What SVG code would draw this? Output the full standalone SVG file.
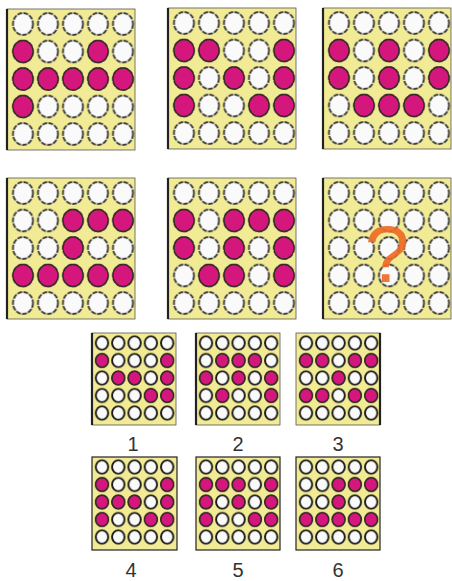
<svg xmlns="http://www.w3.org/2000/svg" xmlns:xlink="http://www.w3.org/1999/xlink" width="452" height="581" viewBox="0 0 452 581">
<style>
.bg{fill:#f2eb95;stroke:#555;stroke-width:0.8}
.edge{stroke:#222;stroke-width:2.2}
.pk{fill:#d5177d;stroke:#3a2a2a;stroke-width:1.3}
.lbl{font-family:"Liberation Sans",Arial,sans-serif;font-size:20px;fill:#333;text-anchor:middle}
.q{font-family:"Liberation Sans",Arial,sans-serif;font-size:80px;fill:#ef6a26;fill-opacity:0.92;text-anchor:middle}
</style>
<defs>
<pattern id="bigc" patternUnits="userSpaceOnUse" x="3.5" y="1.25" width="25" height="27.5">
<ellipse cx="12.5" cy="13.75" rx="10" ry="11" fill="#fafafa" stroke="#2a2a2a" stroke-width="1.7" stroke-dasharray="5 1.2"/>
</pattern>
<pattern id="smc" patternUnits="userSpaceOnUse" x="1.85" y="1.25" width="16.3" height="17.5">
<ellipse cx="8.15" cy="8.75" rx="6.2" ry="6.7" fill="#fafafa" stroke="#1a1a1a" stroke-width="1.9"/>
</pattern>
<ellipse id="bp" class="pk" rx="10" ry="11"/>
<ellipse id="sp" class="pk" rx="6.2" ry="6.7"/>
</defs>

<!-- Row 1 -->
<g id="panel1" transform="translate(7,9)">
<rect class="bg" width="128" height="141"/>
<rect x="3.5" y="1.25" width="125" height="137.5" fill="url(#bigc)"/>
<line class="edge" x1="0" y1="0" x2="0" y2="141"/>
<use href="#bp" x="16" y="42.5"/><use href="#bp" x="91" y="42.5"/>
<use href="#bp" x="16" y="70"/><use href="#bp" x="41" y="70"/><use href="#bp" x="66" y="70"/><use href="#bp" x="91" y="70"/><use href="#bp" x="116" y="70"/>
<use href="#bp" x="16" y="97.5"/>
</g>
<g id="panel2" transform="translate(168,8)">
<rect class="bg" width="128" height="141"/>
<rect x="3.5" y="1.25" width="125" height="137.5" fill="url(#bigc)"/>
<line class="edge" x1="0" y1="0" x2="0" y2="141"/>
<use href="#bp" x="16" y="42.5"/><use href="#bp" x="41" y="42.5"/><use href="#bp" x="116" y="42.5"/>
<use href="#bp" x="16" y="70"/><use href="#bp" x="66" y="70"/><use href="#bp" x="116" y="70"/>
<use href="#bp" x="16" y="97.5"/><use href="#bp" x="91" y="97.5"/><use href="#bp" x="116" y="97.5"/>
</g>
<g id="panel3" transform="translate(323,8)">
<rect class="bg" width="128" height="141"/>
<rect x="3.5" y="1.25" width="125" height="137.5" fill="url(#bigc)"/>
<line class="edge" x1="0" y1="0" x2="0" y2="141"/>
<use href="#bp" x="16" y="42.5"/><use href="#bp" x="66" y="42.5"/><use href="#bp" x="116" y="42.5"/>
<use href="#bp" x="16" y="70"/><use href="#bp" x="66" y="70"/><use href="#bp" x="116" y="70"/>
<use href="#bp" x="41" y="97.5"/><use href="#bp" x="66" y="97.5"/><use href="#bp" x="91" y="97.5"/>
</g>

<!-- Row 2 -->
<g id="panel4" transform="translate(7,178)">
<rect class="bg" width="128" height="141"/>
<rect x="3.5" y="1.25" width="125" height="137.5" fill="url(#bigc)"/>
<line class="edge" x1="0" y1="0" x2="0" y2="141"/>
<use href="#bp" x="66" y="42.5"/><use href="#bp" x="91" y="42.5"/><use href="#bp" x="116" y="42.5"/>
<use href="#bp" x="66" y="70"/>
<use href="#bp" x="16" y="97.5"/><use href="#bp" x="41" y="97.5"/><use href="#bp" x="66" y="97.5"/><use href="#bp" x="91" y="97.5"/><use href="#bp" x="116" y="97.5"/>
</g>
<g id="panel5" transform="translate(168,178)">
<rect class="bg" width="128" height="141"/>
<rect x="3.5" y="1.25" width="125" height="137.5" fill="url(#bigc)"/>
<line class="edge" x1="0" y1="0" x2="0" y2="141"/>
<use href="#bp" x="16" y="42.5"/><use href="#bp" x="66" y="42.5"/><use href="#bp" x="91" y="42.5"/><use href="#bp" x="116" y="42.5"/>
<use href="#bp" x="16" y="70"/><use href="#bp" x="66" y="70"/><use href="#bp" x="116" y="70"/>
<use href="#bp" x="41" y="97.5"/><use href="#bp" x="66" y="97.5"/><use href="#bp" x="116" y="97.5"/>
</g>
<g id="panel6" transform="translate(323,178)">
<rect class="bg" width="128" height="141"/>
<rect x="3.5" y="1.25" width="125" height="137.5" fill="url(#bigc)"/>
<line class="edge" x1="0" y1="0" x2="0" y2="141"/>
<text class="q" x="64" y="104">?</text>
</g>

<!-- Options row 1 -->
<g id="option1" transform="translate(92,333)">
<rect class="bg" width="84" height="92"/>
<rect x="1.85" y="1.25" width="81.5" height="87.5" fill="url(#smc)"/>
<line class="edge" x1="0" y1="0" x2="0" y2="92"/>
<use href="#sp" x="10" y="27.5"/><use href="#sp" x="75.2" y="27.5"/>
<use href="#sp" x="26.3" y="45"/><use href="#sp" x="42.6" y="45"/><use href="#sp" x="75.2" y="45"/>
<use href="#sp" x="58.9" y="62.5"/><use href="#sp" x="75.2" y="62.5"/>
<text class="lbl" x="41" y="118">1</text>
</g>
<g id="option2" transform="translate(196,333)">
<rect class="bg" width="84" height="92"/>
<rect x="1.85" y="1.25" width="81.5" height="87.5" fill="url(#smc)"/>
<line class="edge" x1="0" y1="0" x2="0" y2="92"/>
<use href="#sp" x="26.3" y="27.5"/><use href="#sp" x="42.6" y="27.5"/><use href="#sp" x="58.9" y="27.5"/>
<use href="#sp" x="10" y="45"/><use href="#sp" x="42.6" y="45"/><use href="#sp" x="75.2" y="45"/>
<use href="#sp" x="26.3" y="62.5"/><use href="#sp" x="75.2" y="62.5"/>
<text class="lbl" x="42" y="118">2</text>
</g>
<g id="option3" transform="translate(296,333)">
<rect class="bg" width="84" height="92"/>
<rect x="1.85" y="1.25" width="81.5" height="87.5" fill="url(#smc)"/>
<line class="edge" x1="84" y1="0" x2="84" y2="92"/>
<use href="#sp" x="10" y="27.5"/><use href="#sp" x="26.3" y="27.5"/><use href="#sp" x="58.9" y="27.5"/><use href="#sp" x="75.2" y="27.5"/>
<use href="#sp" x="42.6" y="45"/>
<use href="#sp" x="10" y="62.5"/><use href="#sp" x="26.3" y="62.5"/><use href="#sp" x="58.9" y="62.5"/><use href="#sp" x="75.2" y="62.5"/>
<text class="lbl" x="42" y="118">3</text>
</g>

<!-- Options row 2 -->
<g id="option4" transform="translate(92,457)">
<rect class="bg" width="85" height="93" style="stroke:#222;stroke-width:1.2"/>
<rect x="1.85" y="1.25" width="81.5" height="87.5" fill="url(#smc)"/>
<use href="#sp" x="10" y="27.5"/><use href="#sp" x="75.2" y="27.5"/>
<use href="#sp" x="10" y="45"/><use href="#sp" x="26.3" y="45"/><use href="#sp" x="42.6" y="45"/><use href="#sp" x="75.2" y="45"/>
<use href="#sp" x="10" y="62.5"/><use href="#sp" x="58.9" y="62.5"/><use href="#sp" x="75.2" y="62.5"/>
<text class="lbl" x="39" y="120">4</text>
</g>
<g id="option5" transform="translate(196,457)">
<rect class="bg" width="84" height="93" style="stroke:#222;stroke-width:1.2"/>
<rect x="1.85" y="1.25" width="81.5" height="87.5" fill="url(#smc)"/>
<use href="#sp" x="10" y="27.5"/><use href="#sp" x="26.3" y="27.5"/><use href="#sp" x="42.6" y="27.5"/><use href="#sp" x="75.2" y="27.5"/>
<use href="#sp" x="10" y="45"/><use href="#sp" x="42.6" y="45"/><use href="#sp" x="75.2" y="45"/>
<use href="#sp" x="10" y="62.5"/><use href="#sp" x="58.9" y="62.5"/><use href="#sp" x="75.2" y="62.5"/>
<text class="lbl" x="42" y="120">5</text>
</g>
<g id="option6" transform="translate(296,457)">
<rect class="bg" width="84" height="93" style="stroke:#222;stroke-width:1.2"/>
<rect x="1.85" y="1.25" width="81.5" height="87.5" fill="url(#smc)"/>
<use href="#sp" x="42.6" y="27.5"/><use href="#sp" x="58.9" y="27.5"/><use href="#sp" x="75.2" y="27.5"/>
<use href="#sp" x="42.6" y="45"/>
<use href="#sp" x="10" y="62.5"/><use href="#sp" x="26.3" y="62.5"/><use href="#sp" x="42.6" y="62.5"/><use href="#sp" x="58.9" y="62.5"/><use href="#sp" x="75.2" y="62.5"/>
<text class="lbl" x="42" y="120">6</text>
</g>
<g id="connectors"/>
</svg>
